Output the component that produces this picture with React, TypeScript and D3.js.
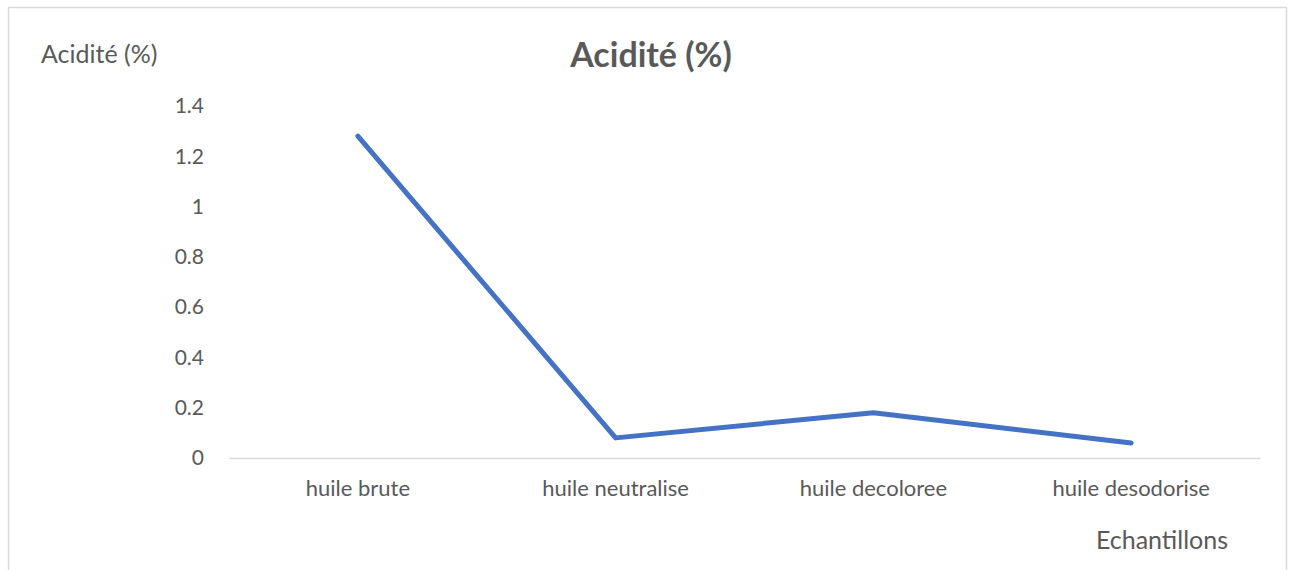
import { useRef, useEffect } from 'react'
import * as d3 from 'd3'

const categories = ['huile brute', 'huile neutralise', 'huile decoloree', 'huile desodorise']
const acidity = [1.28, 0.08, 0.18, 0.06]
const yTicks = [0, 0.2, 0.4, 0.6, 0.8, 1, 1.2, 1.4]

const FONT = 'Lato, "Open Sans", sans-serif'
const TEXT = '#595959'

export default function App() {
  const svgRef = useRef<SVGSVGElement | null>(null)

  useEffect(() => {
    if (!svgRef.current) return
    const svg = d3.select(svgRef.current)
    svg.selectAll('*').remove()

    const width = 1294
    const height = 570
    const margin = { top: 106, right: 34, bottom: 112, left: 229 }
    const innerW = width - margin.left - margin.right
    const innerH = height - margin.top - margin.bottom

    svg.append('rect')
      .attr('width', width).attr('height', height).attr('fill', '#fff')

    // chart border
    svg.append('rect')
      .attr('x', 8.5).attr('y', 7.5)
      .attr('width', 1278).attr('height', 600)
      .attr('fill', 'none').attr('stroke', '#d9d9d9').attr('stroke-width', 1.5)

    const g = svg.append('g').attr('transform', `translate(${margin.left},${margin.top})`)

    const x = d3.scaleBand().domain(categories).range([0, innerW])
    const y = d3.scaleLinear().domain([0, 1.4]).range([innerH, 0])

    // x axis
    const xAxis = g.append('g')
      .attr('transform', `translate(0,${innerH})`)
      .call(d3.axisBottom(x).tickSize(0).tickPadding(22))
    xAxis.select('.domain').attr('stroke', '#d9d9d9').attr('stroke-width', 1.5)
    xAxis.selectAll('text')
      .style('fill', TEXT).style('font-size', '22px').style('font-family', FONT)

    // y axis
    const yAxis = g.append('g')
      .call(d3.axisLeft(y).tickValues(yTicks).tickSize(0).tickPadding(25).tickFormat(d => `${d}`))
    yAxis.select('.domain').remove()
    yAxis.selectAll('text')
      .style('fill', TEXT).style('font-size', '21px').style('font-family', FONT)

    // line
    const line = d3.line<number>()
      .x((_, i) => (x(categories[i]) ?? 0) + x.bandwidth() / 2)
      .y(d => y(d))

    g.append('path')
      .datum(acidity)
      .attr('d', line)
      .attr('fill', 'none')
      .attr('stroke', '#4472C4')
      .attr('stroke-width', 5)
      .attr('stroke-linecap', 'round')
      .attr('stroke-linejoin', 'round')

    // title
    svg.append('text')
      .attr('x', 651).attr('y', 67)
      .attr('text-anchor', 'middle')
      .style('fill', TEXT).style('font-size', '34px').style('font-weight', 'bold')
      .style('font-family', FONT)
      .text('Acidité (%)')

    // y label
    svg.append('text')
      .attr('x', 41).attr('y', 63)
      .style('fill', TEXT).style('font-size', '25px').style('font-family', FONT)
      .text('Acidité (%)')

    // x label
    svg.append('text')
      .attr('x', 1228).attr('y', 549)
      .attr('text-anchor', 'end')
      .style('fill', TEXT).style('font-size', '25px').style('font-family', FONT)
      .text('Echantillons')
  }, [])

  return (
    <svg
      ref={svgRef}
      width={1294}
      height={570}
      style={{ position: 'absolute', left: 0, top: 0, display: 'block' }}
    />
  )
}
